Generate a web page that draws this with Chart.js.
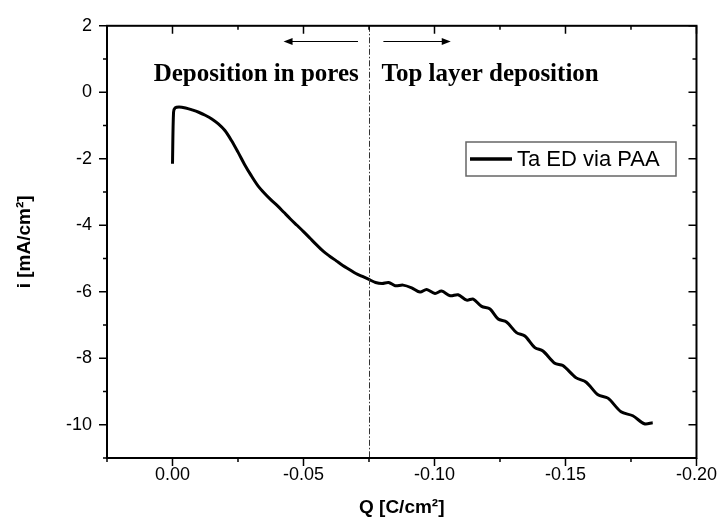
<!DOCTYPE html>
<html><head><meta charset="utf-8">
<script src="https://cdn.jsdelivr.net/npm/chart.js@4/dist/chart.umd.min.js"></script>
<style>html,body{margin:0;padding:0;background:#fff}#wrap{width:723px;height:528px}</style>
</head><body><div id="wrap"><canvas id="c" width="723" height="528"></canvas></div>
<script>
// ---- data ----
const seriesLabel = 'Ta ED via PAA';
const chargeQ = [0, -0.0004, -0.001, -0.0025, -0.005, -0.0075, -0.010, -0.0125, -0.015, -0.0175,
  -0.020, -0.0225, -0.025, -0.0275, -0.030, -0.0325, -0.035, -0.0375, -0.040, -0.0425,
  -0.045, -0.0475, -0.050, -0.0525, -0.055, -0.0575, -0.060, -0.0625, -0.065, -0.0675,
  -0.070, -0.0725, -0.075, -0.0775, -0.080, -0.0825, -0.085, -0.088, -0.0913, -0.0945,
  -0.097, -0.1002, -0.1027, -0.106, -0.109, -0.1123, -0.1148, -0.118, -0.1212, -0.1243,
  -0.1275, -0.1313, -0.1345, -0.1383, -0.1414, -0.1459, -0.149, -0.1541, -0.1579, -0.1624,
  -0.1662, -0.1712, -0.1757, -0.1801, -0.1833];
const currentI = [-2.15, -0.60, -0.47, -0.44, -0.47, -0.53, -0.60, -0.69, -0.80, -0.95,
  -1.15, -1.45, -1.80, -2.17, -2.50, -2.80, -3.03, -3.23, -3.41, -3.61,
  -3.81, -4.00, -4.19, -4.39, -4.59, -4.78, -4.93, -5.07, -5.21, -5.33,
  -5.45, -5.54, -5.63, -5.72, -5.75, -5.72, -5.82, -5.80, -5.88, -6.01,
  -5.93, -6.05, -5.98, -6.12, -6.09, -6.25, -6.22, -6.44, -6.52, -6.82,
  -6.91, -7.23, -7.33, -7.68, -7.78, -8.15, -8.22, -8.59, -8.72, -9.10,
  -9.20, -9.61, -9.73, -9.97, -9.94];
const xTickValues = [0.025, 0, -0.025, -0.05, -0.075, -0.1, -0.125, -0.15, -0.175, -0.2];
const yTickValues = [2, 1, 0, -1, -2, -3, -4, -5, -6, -7, -8, -9, -10, -11];
const xTitle = 'Q [C/cm\u00B2]';
const yTitle = 'i [mA/cm\u00B2]';
const boundaryQ = -0.075;
const regionLabels = ['Deposition in pores', 'Top layer deposition'];
const regionLabelQ = [-0.0711, -0.0798];
const regionLabelI = 0.33;
const arrowI = 1.53;
const arrowFromQ = [-0.0708, -0.0805];
const arrowToQ = [-0.0424, -0.1062];

const isMajorX = v => Math.abs(Math.round(v / 0.05) * 0.05 - v) < 1e-6;
const isMajorY = v => Math.abs(v % 2) < 1e-6;

const decor = {
  id: 'decor',
  afterDatasetsDraw(chart) {
    const {ctx, chartArea: a, scales: {x, y}} = chart;
    ctx.save();
    // boundary dash-dot line
    const bx = Math.round(x.getPixelForValue(boundaryQ)) + 0.5;
    ctx.strokeStyle = '#333'; ctx.lineWidth = 1;
    ctx.setLineDash([6, 2, 1.5, 2]);
    ctx.beginPath(); ctx.moveTo(bx, a.top); ctx.lineTo(bx, a.bottom); ctx.stroke();
    ctx.setLineDash([]);
    // frame
    ctx.strokeStyle = '#000'; ctx.lineWidth = 2;
    ctx.strokeRect(a.left, a.top, a.right - a.left, a.bottom - a.top);
    // ticks
    ctx.lineWidth = 1.5;
    ctx.beginPath();
    xTickValues.forEach(v => {
      const px = x.getPixelForValue(v); const L = isMajorX(v) ? 8 : 4;
      ctx.moveTo(px, a.bottom); ctx.lineTo(px, a.bottom + L);
      ctx.moveTo(px, a.top); ctx.lineTo(px, a.top + L);
    });
    yTickValues.forEach(v => {
      const py = y.getPixelForValue(v); const L = isMajorY(v) ? 8 : 4;
      ctx.moveTo(a.left - L, py); ctx.lineTo(a.left, py);
      ctx.moveTo(a.right - L, py); ctx.lineTo(a.right, py);
    });
    ctx.stroke();
    // region labels
    ctx.fillStyle = '#000';
    ctx.font = 'bold 25px "Liberation Serif", "Times New Roman", serif';
    ctx.textBaseline = 'alphabetic';
    const ly = y.getPixelForValue(regionLabelI);
    ctx.textAlign = 'right';
    ctx.fillText(regionLabels[0], x.getPixelForValue(regionLabelQ[0]), ly);
    ctx.textAlign = 'left';
    ctx.fillText(regionLabels[1], x.getPixelForValue(regionLabelQ[1]), ly);
    // arrows
    const ay = Math.round(y.getPixelForValue(arrowI)) + 0.5;
    ctx.lineWidth = 1; ctx.strokeStyle = '#000';
    for (let k = 0; k < 2; k++) {
      const x0 = x.getPixelForValue(arrowFromQ[k]);
      const x1 = x.getPixelForValue(arrowToQ[k]);
      const dir = x1 > x0 ? 1 : -1;
      ctx.beginPath(); ctx.moveTo(x0, ay); ctx.lineTo(x1 - dir * 6, ay); ctx.stroke();
      ctx.beginPath(); ctx.moveTo(x1, ay); ctx.lineTo(x1 - dir * 9, ay - 3.5); ctx.lineTo(x1 - dir * 9, ay + 3.5); ctx.closePath(); ctx.fill();
    }
    // legend box
    const lx = 466, lyTop = 142, lw = 210, lh = 34;
    ctx.fillStyle = '#fff'; ctx.fillRect(lx, lyTop, lw, lh);
    ctx.strokeStyle = '#666'; ctx.lineWidth = 1.5;
    ctx.strokeRect(lx, lyTop, lw, lh);
    const cy = lyTop + lh / 2;
    ctx.strokeStyle = '#000'; ctx.lineWidth = 3.5;
    ctx.beginPath(); ctx.moveTo(lx + 4, cy); ctx.lineTo(lx + 46, cy); ctx.stroke();
    ctx.fillStyle = '#000';
    ctx.font = '22px "Liberation Sans", Arial, sans-serif';
    ctx.textAlign = 'left'; ctx.textBaseline = 'middle';
    ctx.fillText(chart.data.datasets[0].label, lx + 51, cy + 1);
    ctx.restore();
  }
};

const fmtX = v => { const r = Math.round(v * 100) / 100; return (r === 0 ? 0 : r).toFixed(2); };

new Chart(document.getElementById('c'), {
  type: 'scatter',
  data: {
    datasets: [{
      label: seriesLabel,
      data: chargeQ.map((q, k) => ({x: q, y: currentI[k]})),
      showLine: true, borderColor: '#000', borderWidth: 3, pointRadius: 0,
      tension: 0.3, fill: false
    }]
  },
  options: {
    responsive: false, animation: false,
    layout: {padding: {left: 0, right: 24, top: 19, bottom: 0}},
    plugins: {legend: {display: false}, tooltip: {enabled: false}},
    scales: {
      x: {
        type: 'linear', reverse: true, min: -0.2, max: 0.025,
        afterBuildTicks: s => { s.ticks = xTickValues.map(v => ({value: v})); },
        afterFit: s => { s.height = 70; },
        grid: {display: false, drawTicks: false}, border: {display: false},
        ticks: {autoSkip: false, maxRotation: 0, padding: 6, color: '#000',
          font: {size: 18, family: '"Liberation Sans", Arial, sans-serif'},
          callback: v => isMajorX(v) ? fmtX(v) : ''},
        title: {display: true, text: xTitle, color: '#000',
          font: {size: 19, weight: 'bold', family: '"Liberation Sans", Arial, sans-serif'},
          padding: {top: 0, bottom: 9}}
      },
      y: {
        type: 'linear', min: -11, max: 2,
        afterBuildTicks: s => { s.ticks = yTickValues.map(v => ({value: v})); },
        afterFit: s => { s.width = 107; },
        grid: {display: false, drawTicks: false}, border: {display: false},
        ticks: {autoSkip: false, padding: 15, color: '#000',
          font: {size: 18, family: '"Liberation Sans", Arial, sans-serif'},
          callback: v => isMajorY(v) ? String(v) : ''},
        title: {display: true, text: yTitle, color: '#000',
          font: {size: 19, weight: 'bold', family: '"Liberation Sans", Arial, sans-serif'},
          padding: {top: 13, bottom: 0}}
      }
    }
  },
  plugins: [decor]
});
</script></body></html>
